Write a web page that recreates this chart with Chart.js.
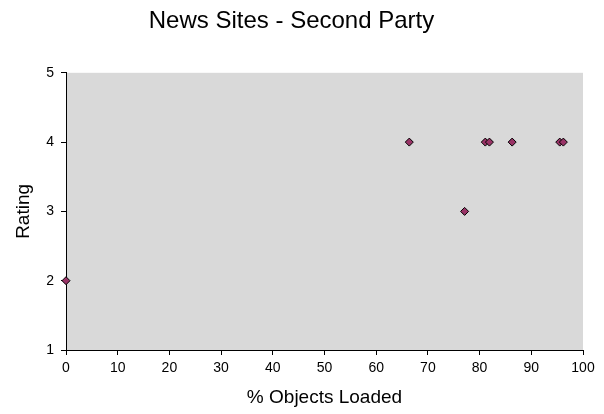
<!DOCTYPE html>
<html>
<head>
  <meta charset="utf-8">
  <title>News Sites - Second Party</title>
  <script src="https://cdn.jsdelivr.net/npm/chart.js"></script>
  <style>
    * { margin: 0; padding: 0; box-sizing: border-box; }
    html, body { width: 604px; height: 414px; overflow: hidden; background: #fff; }
    #wrap { width: 604px; height: 414px; }
  </style>
</head>
<body>
  <div id="wrap"><canvas id="chart"></canvas></div>
  <script>
    // values
    const objectsLoaded = [0, 66.4, 77.1, 81.1, 81.9, 86.3, 95.5, 96.2];
    const ratings = [2, 4, 3, 4, 4, 4, 4, 4];

    const points = objectsLoaded.map((x, i) => ({ x: x, y: ratings[i] }));
    const font = "'Liberation Sans', Arial, sans-serif";

    // grey plot area like the original sheet chart
    const plotBg = {
      id: 'plotBg',
      beforeDraw(chart) {
        const a = chart.chartArea;
        const ctx = chart.ctx;
        ctx.save();
        ctx.fillStyle = '#d9d9d9';
        ctx.fillRect(a.left, a.top, a.right - a.left, a.bottom - a.top);
        ctx.restore();
      }
    };

    new Chart(document.getElementById('chart'), {
      type: 'scatter',
      data: {
        datasets: [{
          label: 'News Sites',
          data: points,
          pointStyle: 'rectRot',
          pointRadius: 4,
          pointHoverRadius: 4,
          backgroundColor: '#993366',
          borderColor: '#000',
          borderWidth: 1,
          clip: false
        }]
      },
      options: {
        responsive: true,
        maintainAspectRatio: false,
        animation: false,
        layout: { padding: { left: 0, right: 21, top: 0, bottom: 0 } },
        scales: {
          x: {
            type: 'linear',
            min: 0,
            max: 100,
            ticks: { stepSize: 10, color: '#000', font: { family: font, size: 14 }, padding: 5, maxRotation: 0 },
            grid: { drawOnChartArea: false, drawTicks: true, tickLength: 5, color: '#000' },
            border: { color: '#000', width: 1 },
            title: { display: true, text: '% Objects Loaded', color: '#000', font: { family: font, size: 19 }, padding: { top: 4, bottom: 5 } },
            afterFit(scale) { scale.height = 64; }
          },
          y: {
            min: 1,
            max: 5,
            ticks: { stepSize: 1, color: '#000', font: { family: font, size: 14 }, padding: 7 },
            grid: { drawOnChartArea: false, drawTicks: true, tickLength: 5, color: '#000' },
            border: { color: '#000', width: 1 },
            title: { display: true, text: 'Rating', color: '#000', font: { family: font, size: 19 }, padding: { top: 12, bottom: 4 } },
            afterFit(scale) { scale.width = 66; }
          }
        },
        plugins: {
          legend: { display: false },
          tooltip: { enabled: false },
          title: {
            display: true,
            text: 'News Sites - Second Party',
            color: '#000',
            font: { family: font, size: 24, weight: 'normal' },
            padding: { top: 7, bottom: 37 }
          }
        }
      },
      plugins: [plotBg]
    });
  </script>
</body>
</html>
